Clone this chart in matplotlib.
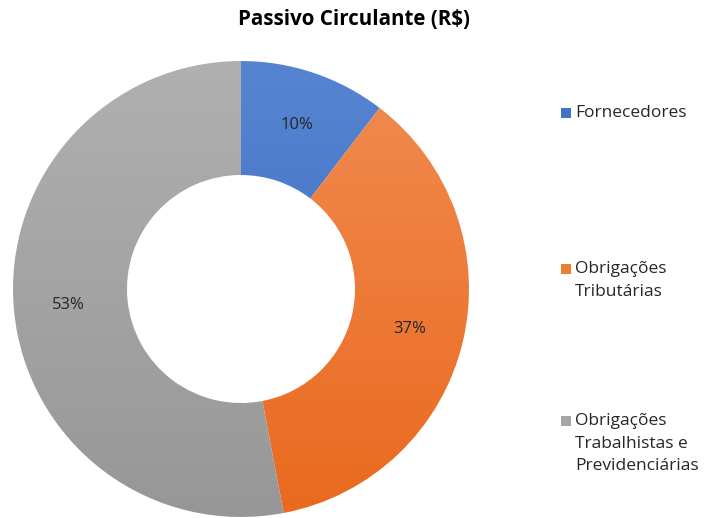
import matplotlib
matplotlib.use('Agg')
import matplotlib.pyplot as plt
import matplotlib.patches as mpatches
from matplotlib.colors import LinearSegmentedColormap
import numpy as np

# dados do gráfico
categorias = ['Fornecedores', 'Obrigações\nTributárias', 'Obrigações\nTrabalhistas e\nPrevidenciárias']
valores = [10.4, 36.6, 53.0]
cores_claras = ['#5585D2', '#F28C52', '#B0B0B0']
cores_escuras = ['#3966BD', '#E9691E', '#979797']
cores_legenda = ['#4472C4', '#ED7D31', '#A5A5A5']

plt.rcParams['font.family'] = ['Open Sans', 'DejaVu Sans']

fig = plt.figure(figsize=(7.05, 5.18), dpi=100)
ax = fig.add_axes([0.01844, 0.00193, 0.6468, 0.8803])

wedges, texts, autotexts = ax.pie(valores, startangle=90, counterclock=False, radius=1,
                                  colors=cores_legenda, autopct='%.0f%%', pctdistance=0.76,
                                  wedgeprops=dict(width=0.5, linewidth=0),
                                  textprops=dict(fontsize=12, color='#262626'))
ax.set_xlim(-1, 1)
ax.set_ylim(-1, 1)
ax.set_aspect('equal')
ax.axis('off')

# preenchimento em degradê vertical, como no Excel
grad = np.linspace(0, 1, 256).reshape(-1, 1)
for w, c1, c2 in zip(wedges, cores_claras, cores_escuras):
    cmap = LinearSegmentedColormap.from_list('g', [c1, c2])
    w.set_facecolor('none')
    im = ax.imshow(grad, cmap=cmap, extent=(-1, 1, -1, 1), origin='upper', aspect='auto', zorder=1)
    im.set_clip_path(w)
for t in autotexts:
    t.set_zorder(3)

fig.suptitle('Passivo Circulante (R$)', x=0.502, y=0.982, fontsize=14.8, fontweight='bold', color='black')

# legenda manual
ys = [112, 268, 420]
for lab, cor, y in zip(categorias, cores_legenda, ys):
    fig.patches.append(mpatches.Rectangle((561 / 705, 1 - (y + 6) / 518), 10 / 705, 10 / 518,
                                          transform=fig.transFigure, facecolor=cor, edgecolor='none'))
    fig.text(575 / 705, 1 - (y - 7) / 518, lab, fontsize=12.5, color='#262626', va='top',
             ha='left', linespacing=1.55)

fig.savefig('out.png', dpi=100)
